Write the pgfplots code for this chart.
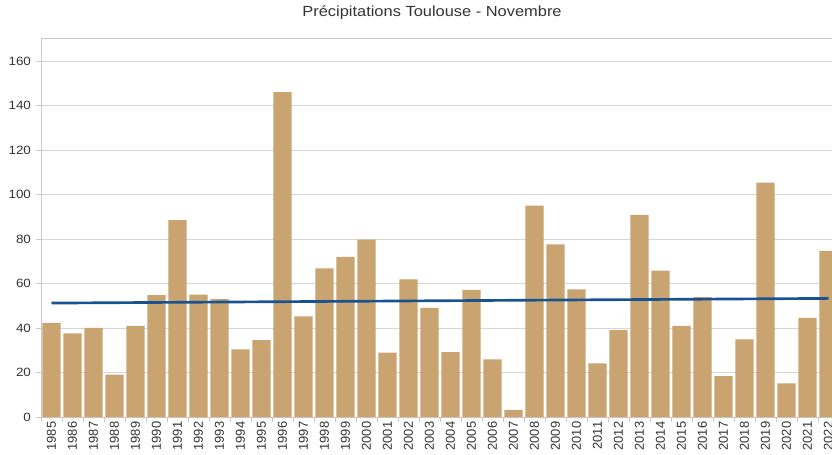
\documentclass[border=0pt]{standalone}
\usepackage{pgfplots}
\pgfplotsset{compat=1.18}
\usepackage{fontspec}
\setmainfont{Liberation Sans}
\definecolor{bartan}{RGB}{201,164,112}
\definecolor{trendblue}{RGB}{24,82,145}
\definecolor{gridgray}{RGB}{214,214,214}
\definecolor{axgray}{RGB}{200,200,200}
\definecolor{txtgray}{RGB}{51,51,51}
\newcommand{\xl}[1]{#1}
\begin{document}
\begin{tikzpicture}
\begin{scope}
\clip (-30.75pt,-27.75pt) rectangle (593.25pt,312.75pt);
\begin{axis}[
  at={(0,0)}, anchor=south west,
  scale only axis,
  width=598.5pt, height=283.7pt,
  xmin=1984.5, xmax=2022.5,
  ymin=0, ymax=170,
  ytick={0,20,...,160},
  ymajorgrids,
  grid style={draw=gridgray, line width=0.7pt},
  axis line style={draw=axgray, line width=0.7pt},
  tick style={draw=axgray, line width=0.7pt},
  tick align=outside,
  major tick length=4pt,
  xtick pos=bottom, ytick pos=left,
  xtick={1984.5,1985.5,...,2022.5},
  xticklabels={},
  extra x ticks={1985,...,2022},
  extra x tick labels={\xl{1985},\xl{1986},\xl{1987},\xl{1988},\xl{1989},\xl{1990},\xl{1991},\xl{1992},\xl{1993},\xl{1994},\xl{1995},\xl{1996},\xl{1997},\xl{1998},\xl{1999},\xl{2000},\xl{2001},\xl{2002},\xl{2003},\xl{2004},\xl{2005},\xl{2006},\xl{2007},\xl{2008},\xl{2009},\xl{2010},\xl{2011},\xl{2012},\xl{2013},\xl{2014},\xl{2015},\xl{2016},\xl{2017},\xl{2018},\xl{2019},\xl{2020},\xl{2021},\xl{2022}},
  extra x tick style={major tick length=0pt, tick label style={rotate=90, anchor=east, font=\fontsize{9.7}{10}\selectfont}},
  yticklabel={\scalebox{1.12}[1]{\pgfmathprintnumber{\tick}}},
  tick label style={font=\fontsize{9}{10}\selectfont, text=txtgray},
  /pgf/number format/assume math mode=true,
  title={\scalebox{1.12}[1]{Précipitations Toulouse - Novembre}},
  title style={font=\fontsize{11}{13}\selectfont, text=txtgray, at={(axis description cs:0.49,1)}, anchor=base, yshift=10.3pt},
]
\addplot[ybar, bar width=0.86, fill=bartan, draw=none] coordinates {
(1985,42.3) (1986,37.6) (1987,40) (1988,19) (1989,40.9) (1990,54.8)
(1991,88.5) (1992,55) (1993,53) (1994,30.4) (1995,34.5) (1996,146)
(1997,45.2) (1998,66.8) (1999,72) (2000,79.7) (2001,28.9) (2002,61.9)
(2003,49) (2004,29.2) (2005,57.1) (2006,25.9) (2007,3.2) (2008,95)
(2009,77.6) (2010,57.4) (2011,24.1) (2012,39) (2013,90.8) (2014,65.8)
(2015,40.9) (2016,53.9) (2017,18.4) (2018,34.9) (2019,105.3) (2020,15.1)
(2021,44.6) (2022,74.7)
};
\addplot[trendblue, line width=2pt, no marks] coordinates {(1985,51.2) (2022,53.3)};
\end{axis}
\end{scope}
\pgfresetboundingbox
\useasboundingbox (-30.75pt,-27.75pt) rectangle (593.25pt,312.75pt);
\end{tikzpicture}
\end{document}
